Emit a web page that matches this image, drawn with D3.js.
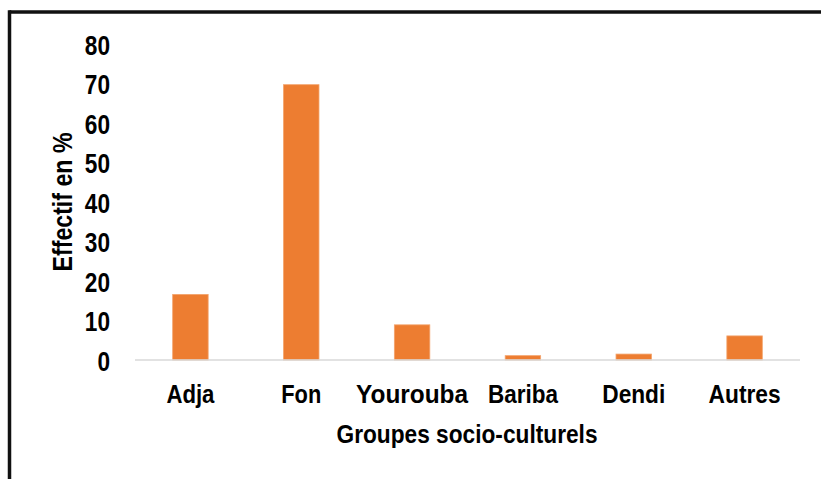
<!DOCTYPE html>
<html>
<head>
<meta charset="utf-8">
<script src="https://cdn.jsdelivr.net/npm/d3@7"></script>
<style>
  html, body { margin: 0; padding: 0; background: #fff; }
  svg { display: block; }
  text { font-family: "Liberation Sans", Arial, sans-serif; font-weight: bold; fill: #000; }
</style>
</head>
<body>
<svg id="chart" width="821" height="479"></svg>
<script>
const categories = ["Adja", "Fon", "Yourouba", "Bariba", "Dendi", "Autres"];
const values = [16.6, 69.7, 8.9, 1.1, 1.5, 6.1];
const yTicks = [0, 10, 20, 30, 40, 50, 60, 70, 80];
const xTitle = "Groupes socio-culturels";
const yTitle = "Effectif en %";

const svg = d3.select("#chart");
const W = 821, H = 479;

// frame (top and left border)
svg.append("line").attr("x1", 9.5).attr("x2", W + 5).attr("y1", 12).attr("y2", 12)
  .attr("stroke", "#111").attr("stroke-width", 3.5);
svg.append("line").attr("x1", 9.5).attr("x2", 9.5).attr("y1", 10.3).attr("y2", H + 5)
  .attr("stroke", "#111").attr("stroke-width", 3.5);

const x = d3.scaleBand().domain(categories).range([135, 800])
  .paddingInner(0.68).paddingOuter(0.34);
const y = d3.scaleLinear().domain([0, 80]).range([360, 44]);

// bars
svg.append("g").selectAll("rect").data(values).join("rect")
  .attr("x", (d, i) => x(categories[i]))
  .attr("y", d => y(d))
  .attr("width", x.bandwidth())
  .attr("height", d => y(0) - y(d))
  .attr("fill", "#ED7D31")
  .attr("stroke", "#F3A36C")
  .attr("stroke-width", 0.8);

// baseline
svg.append("line").attr("x1", 135).attr("x2", 800).attr("y1", y(0)).attr("y2", y(0))
  .attr("stroke", "#d9d9d9").attr("stroke-width", 1.5);

// y axis (labels only)
const yAxis = d3.axisLeft(y).tickValues(yTicks).tickSize(0).tickPadding(0);
const gy = svg.append("g").attr("transform", "translate(110,0)").call(yAxis);
gy.select(".domain").remove();
gy.selectAll("text")
  .attr("font-family", "\"Liberation Sans\", Arial, sans-serif")
  .attr("font-weight", "bold")
  .attr("font-size", 27)
  .attr("fill", "#000")
  .attr("dy", null)
  .attr("y", 10)
  .attr("x", 0)
  .attr("textLength", d => String(d).length * 12.6)
  .attr("lengthAdjust", "spacingAndGlyphs");

// x axis (labels only)
const labelWidths = { "Adja": 48, "Fon": 40, "Yourouba": 112, "Bariba": 70, "Dendi": 63, "Autres": 72 };
const xAxis = d3.axisBottom(x).tickSize(0).tickPadding(0);
const gx = svg.append("g").attr("transform", "translate(0,403)").call(xAxis);
gx.select(".domain").remove();
gx.selectAll("text")
  .attr("font-family", "\"Liberation Sans\", Arial, sans-serif")
  .attr("font-weight", "bold")
  .attr("font-size", 25)
  .attr("fill", "#000")
  .attr("dy", null)
  .attr("y", 0)
  .attr("textLength", d => labelWidths[d])
  .attr("lengthAdjust", "spacingAndGlyphs");

// axis titles
svg.append("text").attr("x", 467).attr("y", 443).attr("text-anchor", "middle")
  .attr("font-size", 25).attr("textLength", 261).attr("lengthAdjust", "spacingAndGlyphs")
  .text(xTitle);

svg.append("text").attr("transform", "translate(72,202) rotate(-90)")
  .attr("text-anchor", "middle").attr("font-size", 27)
  .attr("textLength", 139).attr("lengthAdjust", "spacingAndGlyphs")
  .text(yTitle);
</script>
</body>
</html>
